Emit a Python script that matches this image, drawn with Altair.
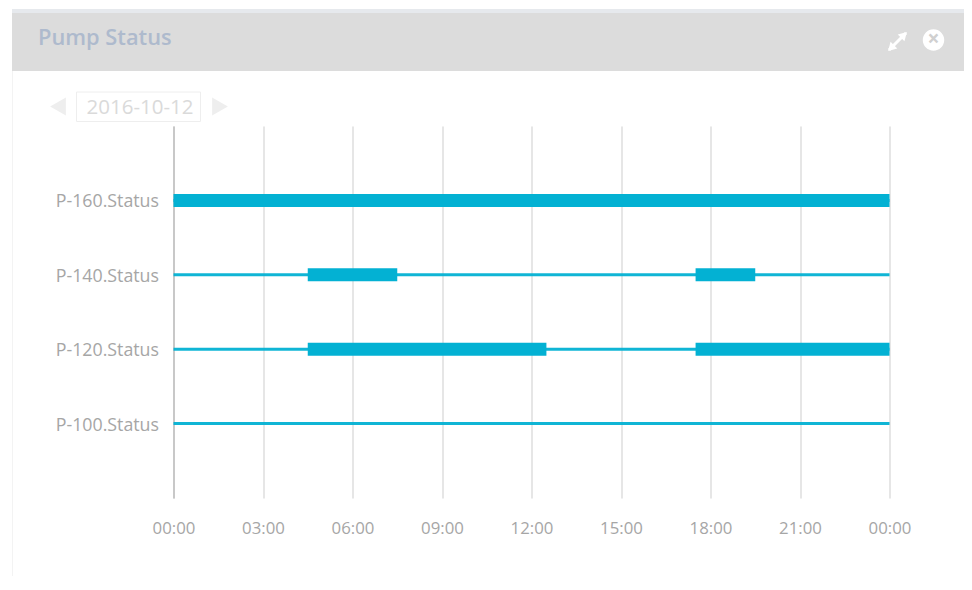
import altair as alt
import pandas as pd

SERIES = ["P-160.Status", "P-140.Status", "P-120.Status", "P-100.Status"]
LINE_START = ["2016-10-12T00:00:00"] * 4
LINE_END = ["2016-10-13T00:00:00"] * 4
ON_SERIES = ["P-160.Status", "P-140.Status", "P-140.Status", "P-120.Status", "P-120.Status"]
ON_START = ["2016-10-12T00:00:00", "2016-10-12T04:30:00", "2016-10-12T17:30:00",
            "2016-10-12T04:30:00", "2016-10-12T17:30:00"]
ON_END = ["2016-10-13T00:00:00", "2016-10-12T07:30:00", "2016-10-12T19:30:00",
          "2016-10-12T12:30:00", "2016-10-13T00:00:00"]
TICKS = ["2016-10-12T%02d:00:00" % h for h in range(0, 24, 3)] + ["2016-10-13T00:00:00"]
TITLE = "Pump Status"
DATE = "2016-10-12"

FONT = "Open Sans"
BLUE = "#03b1d3"
PX0, PY0 = 173.5, 126
W, H = 716, 372
one = alt.Data(values=[{"a": 1}])


def X(v):
    return alt.value(v - PX0)


def Y(v):
    return alt.value(v - PY0)


def box(x0, x1, y0, y1, **kw):
    return alt.Chart(one).mark_rect(**kw).encode(x=X(x0), x2=X(x1), y=Y(y0), y2=Y(y1))


def line(x0, x1, y0, y1, color, width):
    return alt.Chart(one).mark_rule(color=color, strokeWidth=width).encode(
        x=X(x0), x2=X(x1), y=Y(y0), y2=Y(y1))


def label(text, x, y, **kw):
    return alt.Chart(one).mark_text(text=text, font=FONT, **kw).encode(x=X(x), y=Y(y))


def sym(shape, x, y, size, color, **kw):
    return alt.Chart(one).mark_point(shape=shape, filled=True, size=size, color=color,
                                     opacity=1, **kw).encode(x=X(x), y=Y(y))


xscale = alt.Scale(domain=["2016-10-12T00:00:00", "2016-10-13T00:00:00"])
yscale = alt.Scale(domain=SERIES, type="point", padding=1)

xenc = alt.X("start:T", scale=xscale, title=None, axis=alt.Axis(
    values=TICKS, format="%H:%M", grid=True, gridColor="#e6e6e6", gridWidth=2,
    domain=False, ticks=False, labelFont=FONT, labelFontSize=16.8, labelColor="#a6a6a6",
    labelPadding=22, labelFlush=False, labelOverlap=False))
yenc = alt.Y("series:N", scale=yscale, sort=SERIES, title=None, axis=alt.Axis(
    grid=False, domain=True, domainColor="#c8c8c8", domainWidth=2, ticks=False,
    labelFont=FONT, labelFontSize=17.8, labelColor="#a6a6a6", labelPadding=15, labelOffset=1.5))

thin = alt.Chart(alt.Data(values=pd.DataFrame(
    {"series": SERIES, "start": LINE_START, "end": LINE_END}).to_dict("records"))
).mark_rule(color=BLUE, strokeWidth=3, opacity=0.95).encode(x=xenc, x2="end:T", y=yenc)

thick = alt.Chart(alt.Data(values=pd.DataFrame(
    {"series": ON_SERIES, "start": ON_START, "end": ON_END}).to_dict("records"))
).mark_rule(color=BLUE, strokeWidth=13).encode(
    x=alt.X("start:T", scale=xscale), x2="end:T", y=alt.Y("series:N", scale=yscale, sort=SERIES))

decor = [
    line(12.5, 12.5, 70, 582, "#f3f3f3", 1),
    box(12, 968, 9, 13, color="#e6e9ed"),
    box(12, 968, 13, 71, color="#dcdcdc"),
    label(TITLE, 38, 38, fontSize=21.8, fontWeight=600, color="#aebacd", align="left", baseline="middle"),
    line(889, 906, 50, 33, "#ffffff", 3),
    sym("triangle-up", 904, 35, 90, "#ffffff", angle=45),
    sym("triangle-up", 891, 48, 90, "#ffffff", angle=225),
    sym("circle", 933.5, 40, 460, "#ffffff"),
    label("\u00d7", 933.5, 40, fontSize=21, fontWeight=700, color="#d0d0d0", baseline="middle", align="center"),
    sym("triangle-left", 58, 106.5, 330, "#eeeeee"),
    sym("triangle-right", 220, 106.5, 330, "#eeeeee"),
    box(76.5, 200.5, 92, 121.5, fill="#ffffff", stroke="#eeeeee", strokeWidth=1),
    label(DATE, 140, 107.5, fontSize=20.5, color="#dadada", baseline="middle", align="center"),
]

chart = alt.layer(thin, thick, *decor).resolve_scale(x="shared", y="shared").properties(
    width=W, height=H,
    padding={"left": PX0 - 8, "top": PY0 - 8, "right": 74.5, "bottom": 78},
    autosize=alt.AutoSizeParams(type="none", contains="content"),
    background="#ffffff",
).configure_view(stroke=None).configure_rule(strokeCap="butt")

chart.save("out.html", embed_options={"renderer": "svg", "actions": False})
